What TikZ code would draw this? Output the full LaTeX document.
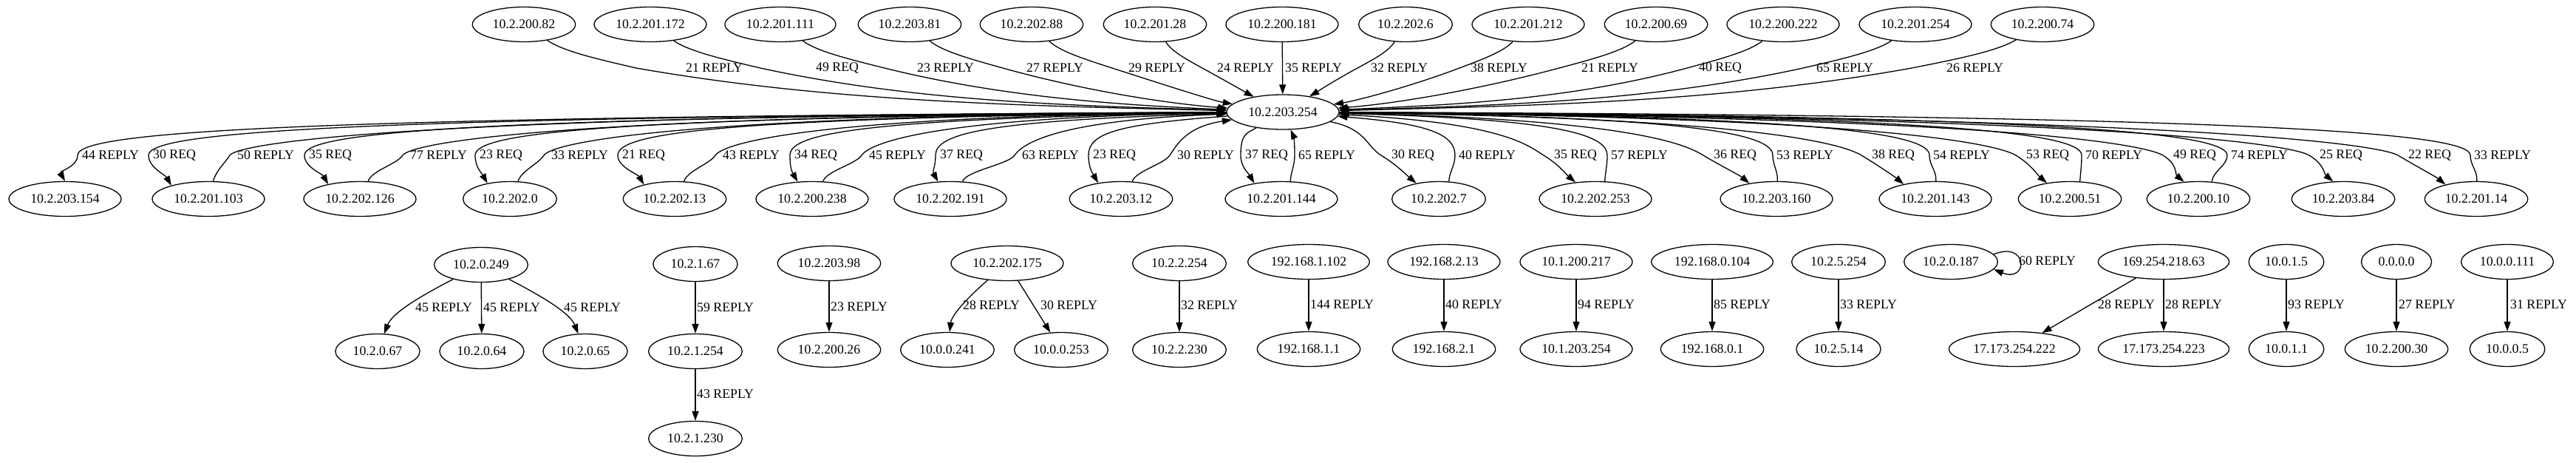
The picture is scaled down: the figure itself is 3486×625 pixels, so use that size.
\documentclass[tikz,border=0pt]{standalone}
\usepackage{fontspec}
\setmainfont{Liberation Serif}
\usetikzlibrary{shapes.geometric,arrows.meta,calc}
\newcommand\fs{\fontsize{17.8}{20}\selectfont}
\tikzset{
  ip/.style={ellipse, draw, line width=1.3pt, inner xsep=7pt, inner ysep=2pt, minimum height=47pt, font=\fs},
  lab/.style={anchor=west, inner sep=0pt, font=\fs},
  edge/.style={line width=1.3pt, -{Triangle[length=13pt,width=9pt]}},
}
% C -> X, left side (vertical tangent at label)
\newcommand\reqL[4]{%
  \pgfmathsetmacro\eWx{#2-6}%
  \pgfmathsetmacro\ePx{\eWx+0.15*(1736-\eWx)}%
  \pgfmathsetmacro\ePy{158+28*exp(-abs(1736-\eWx)/250)}%
  \draw[edge] (C) .. controls (\ePx,\ePy) and (\eWx,180) .. (\eWx,210) .. controls (\eWx,226) and ($(#1.#4)+(-8,-14)$) .. (#1.#4);%
  \node[lab] (l-#1-#2) at (#2,210) {#3};%
}
% C -> X, right side (diagonal tangent)
\newcommand\reqR[4]{%
  \pgfmathsetmacro\eWx{#2-14}%
  \pgfmathsetmacro\ePx{\eWx+0.15*(1736-\eWx)}%
  \pgfmathsetmacro\ePy{158+28*exp(-abs(1736-\eWx)/250)}%
  \draw[edge] (C) .. controls (\ePx,\ePy) and (\eWx-20,198) .. (\eWx,210) .. controls (\eWx+20,222) and ($(#1.#4)+(-12,-10)$) .. (#1.#4);%
  \node[lab] (l-#1-#2) at (#2,210) {#3};%
}
% X -> C, left side
\newcommand\repL[4]{%
  \pgfmathsetmacro\eWx{#2-10}%
  \pgfmathsetmacro\ePx{\eWx+0.15*(1736-\eWx)}%
  \pgfmathsetmacro\ePy{156+28*exp(-abs(1736-\eWx)/250)}%
  \draw[edge] (#1.#4) .. controls ($(#1.#4)+(4,-14)$) and (\eWx-8,222) .. (\eWx,210) .. controls (\eWx+10,195) and (\ePx,\ePy) .. (C);%
  \node[lab] (l-#1-#2) at (#2,210) {#3};%
}
% X -> C, right side
\newcommand\repR[4]{%
  \pgfmathsetmacro\eWx{#2-5}%
  \pgfmathsetmacro\ePx{\eWx+0.15*(1736-\eWx)}%
  \pgfmathsetmacro\ePy{156+28*exp(-abs(1736-\eWx)/250)}%
  \draw[edge] (#1.#4) .. controls ($(#1.#4)+(1,-14)$) and (\eWx,224) .. (\eWx,210) .. controls (\eWx,182) and (\ePx,\ePy) .. (C);%
  \node[lab] (l-#1-#2) at (#2,210) {#3};%
}
% top row -> C : #1 node, #2 source x, #3 x where edge crosses y=92, #4 label left, #5 text
\newcommand\topE[5]{%
  \pgfmathsetmacro\eDx{#3-#2}%
  \pgfmathsetmacro\eQax{#2+0.35*\eDx}%
  \pgfmathsetmacro\eQbx{#3-0.35*\eDx}%
  \pgfmathsetmacro\eR{1736-#3}%
  \pgfmathsetmacro\eRatio{abs(\eR/\eDx)}%
  \pgfmathsetmacro\eQcx{#3+0.3*\eR}%
  \pgfmathsetmacro\eQcy{min(138,92+10.5*\eRatio)}%
  \pgfmathsetmacro\ePtx{#3+0.6*\eR}%
  \pgfmathsetmacro\ePty{143-30*exp(-abs(\eR)/150)}%
  \draw[edge] (#1) .. controls (\eQax,69.25) and (\eQbx,79.75) .. (#3,92) .. controls (\eQcx,\eQcy) and (\ePtx,\ePty) .. (C);%
  \node[lab] (l-#1) at (#4,92) {#5};%
}
\begin{document}
\begin{tikzpicture}[x=1pt,y=-1pt]
\fill[white] (0,0) rectangle (3486,625);
\useasboundingbox (0,0) rectangle (3486,625);

% centre
\node[ip] (C) at (1736,151.5) {10.2.203.254};

% top row
\node[ip] (t1) at (709,33) {10.2.200.82};
\node[ip] (t2) at (880,33) {10.2.201.172};
\node[ip] (t3) at (1056,33) {10.2.201.111};
\node[ip] (t4) at (1231,33) {10.2.203.81};
\node[ip] (t5) at (1396,33) {10.2.202.88};
\node[ip] (t6) at (1563,33) {10.2.201.28};
\node[ip] (t7) at (1735,33) {10.2.200.181};
\node[ip] (t8) at (1902,33) {10.2.202.6};
\node[ip] (t9) at (2068,33) {10.2.201.212};
\node[ip] (t10) at (2241,33) {10.2.200.69};
\node[ip] (t11) at (2413,33) {10.2.200.222};
\node[ip] (t12) at (2592,33) {10.2.201.254};
\node[ip] (t13) at (2764,33) {10.2.200.74};

% second row
\node[ip] (r1) at (88,269) {10.2.203.154};
\node[ip] (r2) at (282,269) {10.2.201.103};
\node[ip] (r3) at (487,269) {10.2.202.126};
\node[ip] (r4) at (690,269) {10.2.202.0};
\node[ip] (r5) at (913,269) {10.2.202.13};
\node[ip] (r6) at (1099,269) {10.2.200.238};
\node[ip] (r7) at (1286,269) {10.2.202.191};
\node[ip] (r8) at (1517,269) {10.2.203.12};
\node[ip] (r9) at (1734,269) {10.2.201.144};
\node[ip] (r10) at (1947,269) {10.2.202.7};
\node[ip] (r11) at (2159,269) {10.2.202.253};
\node[ip] (r12) at (2404,269) {10.2.203.160};
\node[ip] (r13) at (2619,269) {10.2.201.143};
\node[ip] (r14) at (2801,269) {10.2.200.51};
\node[ip] (r15) at (2975,269) {10.2.200.10};
\node[ip] (r16) at (3171,269) {10.2.203.84};
\node[ip] (r17) at (3351,269) {10.2.201.14};

% top edges
\topE{t1}{709}{861}{928}{21 REPLY}
\topE{t2}{880}{1029}{1104}{49 REQ}
\topE{t3}{1056}{1197}{1241}{23 REPLY}
\topE{t4}{1231}{1357}{1389}{27 REPLY}
\topE{t5}{1396}{1505}{1527}{29 REPLY}
\topE{t6}{1563}{1627}{1647}{24 REPLY}
\draw[edge] (t7) -- (C);
\node[lab] (l-t7) at (1739,92) {35 REPLY};
\topE{t8}{1902}{1837}{1855}{32 REPLY}
\topE{t9}{2068}{1975}{1990}{38 REPLY}
\topE{t10}{2241}{2110}{2140}{21 REPLY}
\topE{t11}{2413}{2283}{2299}{40 REQ}
\topE{t12}{2592}{2440}{2458}{65 REPLY}
\topE{t13}{2764}{2587}{2634}{26 REPLY}

% second row edges
\reqL{r1}{111}{44 REPLY}{north}
\reqL{r2}{207}{30 REQ}{160}
\repL{r2}{321}{50 REPLY}{75}
\reqL{r3}{418}{35 REQ}{155}
\repL{r3}{555}{77 REPLY}{65}
\reqL{r4}{649}{23 REQ}{145}
\repL{r4}{746}{33 REPLY}{65}
\reqL{r5}{842}{21 REQ}{155}
\repL{r5}{978}{43 REPLY}{62}
\reqL{r6}{1075}{34 REQ}{130}
\repL{r6}{1176}{45 REPLY}{58}
\reqL{r7}{1272}{37 REQ}{125}
\repL{r7}{1383}{63 REPLY}{55}
\reqL{r8}{1479}{23 REQ}{145}
\repL{r8}{1593}{30 REPLY}{57}
\reqL{r9}{1685}{37 REQ}{150}
\repR{r9}{1757}{65 REPLY}{63}
\reqR{r10}{1883}{30 REQ}{145}
\repR{r10}{1974}{40 REPLY}{60}
\reqR{r11}{2103}{35 REQ}{140}
\repR{r11}{2180}{57 REPLY}{62}
\reqR{r12}{2319}{36 REQ}{150}
\repR{r12}{2404}{53 REPLY}{87}
\reqR{r13}{2533}{38 REQ}{155}
\repR{r13}{2616}{54 REPLY}{88}
\reqR{r14}{2742}{53 REQ}{145}
\repR{r14}{2822}{70 REPLY}{60}
\reqR{r15}{2941}{49 REQ}{130}
\repR{r15}{3019}{74 REPLY}{52}
\reqR{r16}{3139}{25 REQ}{120}
\reqR{r17}{3259}{22 REQ}{155}
\repR{r17}{3348}{33 REPLY}{88}

% bottom components
\node[ip] (b1) at (651,358) {10.2.0.249};
\node[ip] (b2) at (511,475) {10.2.0.67};
\node[ip] (b3) at (652,475) {10.2.0.64};
\node[ip] (b4) at (792,475) {10.2.0.65};
\node[ip] (b5) at (941,357) {10.2.1.67};
\node[ip] (b6) at (941,475) {10.2.1.254};
\node[ip] (b7) at (941,593) {10.2.1.230};
\node[ip] (b8) at (1122,356) {10.2.203.98};
\node[ip] (b9) at (1122,473) {10.2.200.26};
\node[ip] (b10) at (1363,356) {10.2.202.175};
\node[ip] (b11) at (1282,473) {10.0.0.241};
\node[ip] (b12) at (1436,473) {10.0.0.253};
\node[ip] (b13) at (1596,356) {10.2.2.254};
\node[ip] (b14) at (1596,473) {10.2.2.230};
\node[ip] (b15) at (1771,354) {192.168.1.102};
\node[ip] (b16) at (1771,472) {192.168.1.1};
\node[ip] (b17) at (1954,354) {192.168.2.13};
\node[ip] (b18) at (1954,472) {192.168.2.1};
\node[ip] (b19) at (2133,354) {10.1.200.217};
\node[ip] (b20) at (2133,472) {10.1.203.254};
\node[ip] (b21) at (2317,354) {192.168.0.104};
\node[ip] (b22) at (2317,472) {192.168.0.1};
\node[ip] (b23) at (2488,354) {10.2.5.254};
\node[ip] (b24) at (2488,472) {10.2.5.14};
\node[ip] (b25) at (2640,354) {10.2.0.187};
\node[ip] (b26) at (2928,354) {169.254.218.63};
\node[ip] (b27) at (2726,472) {17.173.254.222};
\node[ip] (b28) at (2928,472) {17.173.254.223};
\node[ip] (b29) at (3094,354) {10.0.1.5};
\node[ip] (b30) at (3094,472) {10.0.1.1};
\node[ip, minimum width=95pt] (b31) at (3243,354) {0.0.0.0};
\node[ip] (b32) at (3243,472) {10.2.200.30};
\node[ip] (b33) at (3393,354) {10.0.0.111};
\node[ip] (b34) at (3393,472) {10.0.0.5};

\draw[edge] (b1) .. controls (560,405) and (530,425) .. (b2);
\node[lab] (lb2) at (562,416) {45 REPLY};
\draw[edge] (b1) -- (b3);
\node[lab] (lb3) at (654,416) {45 REPLY};
\draw[edge] (b1) .. controls (742,405) and (772,425) .. (b4);
\node[lab] (lb4) at (763,416) {45 REPLY};
\draw[edge] (b5) -- (b6);
\node[lab] (lb6) at (943,416) {59 REPLY};
\draw[edge] (b6) -- (b7);
\node[lab] (lb7) at (943,533) {43 REPLY};
\draw[edge] (b8) -- (b9);
\node[lab] (lb9) at (1124,415) {23 REPLY};
\draw[edge] (b10) .. controls (1312,400) and (1288,425) .. (b11);
\node[lab] (lb11) at (1303,413) {28 REPLY};
\draw[edge] (b10) -- (b12);
\node[lab] (lb12) at (1408,413) {30 REPLY};
\draw[edge] (b13) -- (b14);
\node[lab] (lb14) at (1598,413) {32 REPLY};
\draw[edge] (b15) -- (b16);
\node[lab] (lb16) at (1773,412) {144 REPLY};
\draw[edge] (b17) -- (b18);
\node[lab] (lb18) at (1956,412) {40 REPLY};
\draw[edge] (b19) -- (b20);
\node[lab] (lb20) at (2135,412) {94 REPLY};
\draw[edge] (b21) -- (b22);
\node[lab] (lb22) at (2319,412) {85 REPLY};
\draw[edge] (b23) -- (b24);
\node[lab] (lb24) at (2490,412) {33 REPLY};
\draw[edge] (b25.10) .. controls (2745,325) and (2745,383) .. (b25.-10);
\node[lab] (lb25) at (2732,353) {60 REPLY};
\draw[edge] (b26) -- (b27);
\node[lab] (lb27) at (2839,412) {28 REPLY};
\draw[edge] (b26) -- (b28);
\node[lab] (lb28) at (2930,412) {28 REPLY};
\draw[edge] (b29) -- (b30);
\node[lab] (lb30) at (3096,412) {93 REPLY};
\draw[edge] (b31) -- (b32);
\node[lab] (lb32) at (3246,412) {27 REPLY};
\draw[edge] (b33) -- (b34);
\node[lab] (lb34) at (3397,412) {31 REPLY};
\end{tikzpicture}
\end{document}
